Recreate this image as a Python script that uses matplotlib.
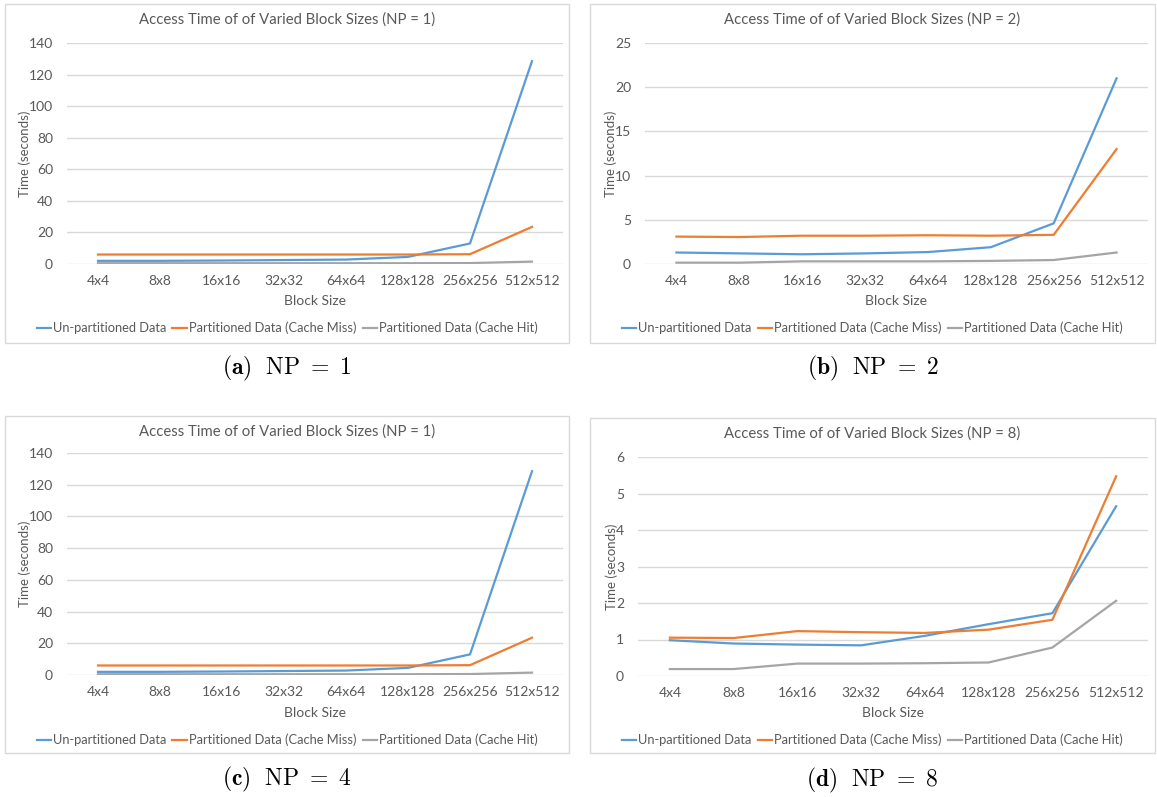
import matplotlib
matplotlib.use('Agg')
from matplotlib import pyplot as plt
from matplotlib.patches import Rectangle

plt.rcParams['font.family'] = ['Lato', 'DejaVu Sans']
plt.rcParams['mathtext.fontset'] = 'cm'

block_sizes = ['4x4', '8x8', '16x16', '32x32', '64x64', '128x128', '256x256', '512x512']
series_names = ['Un-partitioned Data', 'Partitioned Data (Cache Miss)', 'Partitioned Data (Cache Hit)']

# NP = 1
np1_unpart = [2.0, 2.0, 2.2, 2.5, 2.8, 4.5, 13.0, 128.5]
np1_miss = [6.0, 6.0, 6.0, 6.0, 6.0, 6.0, 6.2, 23.5]
np1_hit = [0.5, 0.5, 0.5, 0.5, 0.5, 0.5, 0.6, 1.5]

# NP = 2
np2_unpart = [1.3, 1.2, 1.1, 1.2, 1.35, 1.9, 4.6, 21.0]
np2_miss = [3.1, 3.05, 3.2, 3.2, 3.25, 3.2, 3.3, 13.0]
np2_hit = [0.15, 0.15, 0.3, 0.3, 0.3, 0.35, 0.45, 1.3]

# NP = 4 (the source figure repeats the NP = 1 chart)
np4_unpart = [2.0, 2.0, 2.2, 2.5, 2.8, 4.5, 13.0, 128.5]
np4_miss = [6.0, 6.0, 6.0, 6.0, 6.0, 6.0, 6.2, 23.5]
np4_hit = [0.5, 0.5, 0.5, 0.5, 0.5, 0.5, 0.6, 1.5]

# NP = 8
np8_unpart = [0.98, 0.89, 0.86, 0.84, 1.1, 1.42, 1.72, 4.65]
np8_miss = [1.05, 1.04, 1.23, 1.20, 1.18, 1.27, 1.54, 5.47]
np8_hit = [0.19, 0.19, 0.34, 0.34, 0.35, 0.37, 0.78, 2.06]

W, H = 1157, 797
COLORS = ['#5B9BD5', '#ED7D31', '#A5A5A5']
TXT = '#595959'
GRID = '#D9D9D9'

fig = plt.figure(figsize=(W / 100, H / 100), dpi=100)


def fx(px):
    return px / W


def fy(py):
    return 1 - py / H


def panel(box, plot, title_y, xlab_y, leg_y, cap_y, title, caption, data, ymax, ystep):
    bx0, by0, bx1, by1 = box
    px0, py0, px1, py1 = plot
    fig.patches.append(Rectangle((fx(bx0), fy(by1)), fx(bx1 - bx0), (by1 - by0) / H,
                                 transform=fig.transFigure, fill=False,
                                 edgecolor=GRID, linewidth=1.0))
    ax = fig.add_axes([fx(px0), fy(py1), fx(px1 - px0), (py1 - py0) / H])
    xs = list(range(len(block_sizes)))
    for vals, name, c in zip(data, series_names, COLORS):
        ax.plot(xs, vals, color=c, linewidth=1.6, label=name)
    ax.set_xlim(-0.5, len(block_sizes) - 0.5)
    ax.set_ylim(0, ymax)
    ax.set_yticks([ystep * i for i in range(int(round(ymax / ystep)) + 1)])
    ax.set_xticks(xs)
    ax.set_xticklabels(block_sizes)
    for s in ax.spines.values():
        s.set_visible(False)
    ax.grid(axis='y', color=GRID, linewidth=1.0)
    ax.set_axisbelow(True)
    ax.tick_params(axis='both', length=0, labelsize=10, colors=TXT)
    ax.tick_params(axis='y', pad=10)
    ax.tick_params(axis='x', pad=8)
    ax.set_ylabel('Time (seconds)', fontsize=9.5, color=TXT, labelpad=-1.5)
    cx = (bx0 + bx1) / 2
    fig.text(fx(cx), fy(title_y), title, ha='center', va='center', fontsize=10.7, color=TXT)
    fig.text(fx((px0 + px1) / 2), fy(xlab_y), 'Block Size', ha='center', va='center',
             fontsize=10, color=TXT)
    ax.legend(loc='center', bbox_to_anchor=(fx(cx), fy(leg_y)), bbox_transform=fig.transFigure,
              ncol=3, frameon=False, fontsize=9.3, labelcolor=TXT, handlelength=1.1,
              handletextpad=0.15, columnspacing=0.5, borderpad=0)
    fig.text(fx(cx), fy(cap_y), caption, ha='center', va='center', fontsize=17, color='black')
    return ax


panel((5, 4, 569, 343), (67, 43, 563, 264), 20, 301, 328, 368,
      'Access Time of of Varied Block Sizes (NP = 1)', r'$\mathbf{(a)}\ \ \mathrm{NP}\ =\ 1$',
      [np1_unpart, np1_miss, np1_hit], 140, 20)
panel((590, 4, 1155, 343), (645, 43, 1148, 264), 20, 301, 328, 368,
      'Access Time of of Varied Block Sizes (NP = 2)', r'$\mathbf{(b)}\ \ \mathrm{NP}\ =\ 2$',
      [np2_unpart, np2_miss, np2_hit], 25, 5)
panel((5, 416, 569, 753), (67, 453, 563, 675), 432, 713, 740, 779,
      'Access Time of of Varied Block Sizes (NP = 1)', r'$\mathbf{(c)}\ \ \mathrm{NP}\ =\ 4$',
      [np4_unpart, np4_miss, np4_hit], 140, 20)
panel((590, 418, 1155, 753), (638, 457, 1148, 676), 434, 713, 740, 780,
      'Access Time of of Varied Block Sizes (NP = 8)', r'$\mathbf{(d)}\ \ \mathrm{NP}\ =\ 8$',
      [np8_unpart, np8_miss, np8_hit], 6, 1)

fig.savefig('out.png', dpi=100)
